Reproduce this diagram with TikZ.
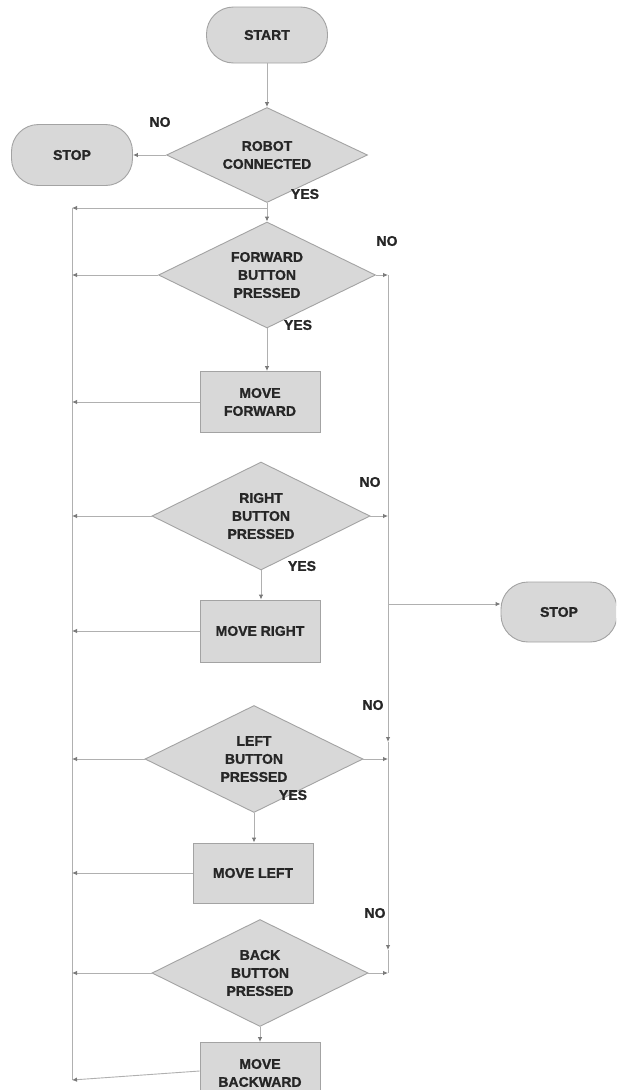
\documentclass[tikz,border=0pt]{standalone}
\usepackage{fontspec}
\setmainfont{Liberation Sans}[FakeBold=1.2]
\usetikzlibrary{shapes.geometric,arrows.meta}
\definecolor{fillg}{HTML}{D8D8D8}
\definecolor{edgeg}{HTML}{A3A3A3}
\definecolor{lineg}{HTML}{B0B0B0}
\definecolor{tipg}{HTML}{7A7A7A}
\definecolor{txt}{HTML}{262626}
\tikzset{
  base/.style={fill=fillg,draw=edgeg,line width=0.9pt,text=txt,
    font=\fontsize{14}{18}\selectfont\bfseries,align=center,inner sep=0pt},
  term/.style={base,rectangle,rounded corners=27pt},
  proc/.style={base,rectangle},
  decide/.style={base,diamond,shape aspect=2},
  lbl/.style={text=txt,font=\fontsize{14}{16}\selectfont\bfseries,inner sep=0pt},
  conn/.style={draw=lineg,line width=0.9pt},
  arr/.style={conn,-{Latex[length=5pt,width=4.5pt,color=tipg]}},
}
\begin{document}
\begin{tikzpicture}[x=1pt,y=-1pt]
\clip (0,0) rectangle (616,1090);
\fill[white] (0,0) rectangle (616,1090);

% nodes
\node[term,minimum width=121pt,minimum height=56pt] (start) at (267,35) {START};
\node[decide,minimum width=201pt,minimum height=95pt] (robot) at (267,155) {ROBOT\\CONNECTED};
\node[term,minimum width=121pt,minimum height=61pt] (stopL) at (72,155) {STOP};
\node[decide,minimum width=217pt,minimum height=106pt] (fwd) at (267,275) {FORWARD\\BUTTON\\PRESSED};
\node[proc,minimum width=120pt,minimum height=61pt] (mf) at (260,402) {MOVE\\FORWARD};
\node[decide,minimum width=218pt,minimum height=108pt] (rgt) at (261,516) {RIGHT\\BUTTON\\PRESSED};
\node[proc,minimum width=120pt,minimum height=62pt] (mr) at (260,631) {MOVE RIGHT};
\node[decide,minimum width=218pt,minimum height=107pt] (lft) at (254,759) {LEFT\\BUTTON\\PRESSED};
\node[proc,minimum width=120pt,minimum height=60pt] (ml) at (253,873) {MOVE LEFT};
\node[decide,minimum width=216pt,minimum height=107pt] (back) at (260,973) {BACK\\BUTTON\\PRESSED};
\node[proc,minimum width=120pt,minimum height=61pt] (mb) at (260,1073) {MOVE\\BACKWARD};
\node[term,minimum width=116pt,minimum height=60pt] (stopR) at (559,612) {STOP};

% labels
\node[lbl] (noA) at (160,122) {NO};
\node[lbl] (yesA) at (305,194) {YES};
\node[lbl] (noB) at (387,241) {NO};
\node[lbl] (yesB) at (298,325) {YES};
\node[lbl] (noC) at (370,482) {NO};
\node[lbl] (yesC) at (302,566) {YES};
\node[lbl] (noD) at (373,705) {NO};
\node[lbl] (yesD) at (293,795) {YES};
\node[lbl] (noE) at (375,913) {NO};

% coordinates
\coordinate (j0) at (267,208);
\coordinate (L0) at (72,208);
\coordinate (Lbot) at (72,1080);
\coordinate (R0) at (388,275);
\coordinate (Rs) at (388,604);
\coordinate (Rm1) at (388,742);
\coordinate (Rm2) at (388,950);
\coordinate (Rbot) at (388,973);

% main flow
\draw[arr] (start.south) -- (robot.north);
\draw[arr] (robot.west) -- (stopL.east);
\draw[conn] (robot.south) -- (j0);
\draw[arr] (j0) -- (fwd.north);
\draw[arr] (fwd.south) -- (fwd.south |- mf.north);
\draw[arr] (rgt.south) -- (rgt.south |- mr.north);
\draw[arr] (lft.south) -- (lft.south |- ml.north);
\draw[arr] (back.south) -- (back.south |- mb.north);

% left return line
\draw[arr] (j0) -- (L0);
\draw[conn] (L0) -- (Lbot);
\draw[arr] (fwd.west) -- (fwd.west -| L0);
\draw[arr] (mf.west) -- (mf.west -| L0);
\draw[arr] (rgt.west) -- (rgt.west -| L0);
\draw[arr] (mr.west) -- (mr.west -| L0);
\draw[arr] (lft.west) -- (lft.west -| L0);
\draw[arr] (ml.west) -- (ml.west -| L0);
\draw[arr] (back.west) -- (back.west -| L0);
\draw[arr] ([yshift=2pt]mb.west) -- (Lbot);

% right line
\draw[arr] (fwd.east) -- (R0);
\draw[arr] (rgt.east) -- (rgt.east -| R0);
\draw[arr] (lft.east) -- (lft.east -| R0);
\draw[arr] (back.east) -- (Rbot);
\draw[arr] (R0) -- (Rm1);
\draw[arr] (Rm1) -- (Rm2);
\draw[conn] (Rm2) -- (Rbot);
\draw[arr] (Rs) -- (Rs -| stopR.west);
\end{tikzpicture}
\end{document}
